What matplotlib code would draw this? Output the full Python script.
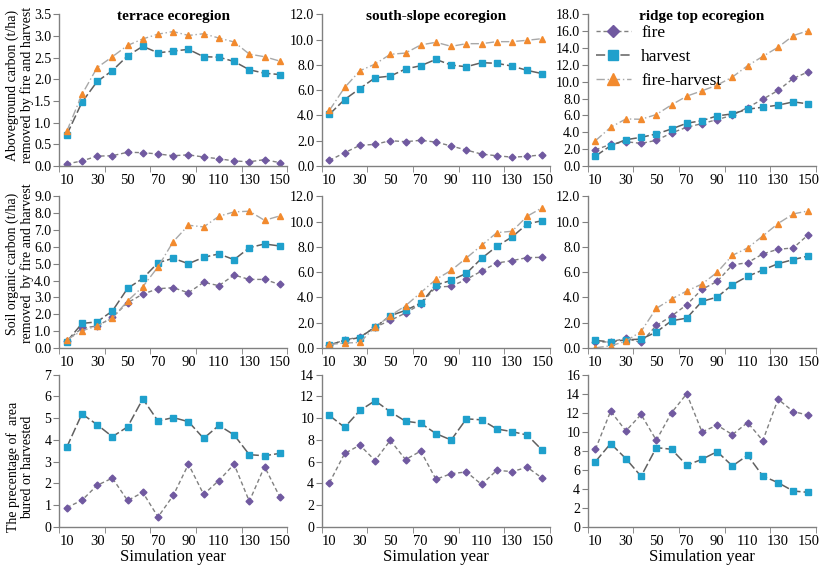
import matplotlib
matplotlib.use("Agg")
import matplotlib.pyplot as plt
from matplotlib.ticker import FixedLocator, FormatStrFormatter

plt.rcParams["font.family"] = ["Liberation Serif", "DejaVu Serif"]

years = [10, 20, 30, 40, 50, 60, 70, 80, 90, 100, 110, 120, 130, 140, 150]
tick_years = [10, 30, 50, 70, 90, 110, 130, 150]

regions = ["terrace ecoregion", "south-slope ecoregion", "ridge top ecoregion"]

# aboveground carbon removed (t/ha)
agc_fire = [
    [0.05, 0.12, 0.23, 0.24, 0.32, 0.31, 0.28, 0.24, 0.26, 0.21, 0.17, 0.12, 0.10, 0.15, 0.08],
    [0.45, 1.06, 1.64, 1.72, 2.01, 1.93, 2.04, 1.90, 1.59, 1.27, 0.95, 0.82, 0.71, 0.77, 0.90],
    [1.94, 2.58, 2.89, 2.70, 3.05, 3.93, 4.60, 5.04, 5.51, 6.03, 6.94, 7.93, 8.96, 10.39, 11.18],
]
agc_harvest = [
    [0.72, 1.47, 1.95, 2.20, 2.54, 2.76, 2.61, 2.65, 2.69, 2.52, 2.51, 2.41, 2.22, 2.14, 2.11],
    [4.10, 5.26, 6.13, 6.98, 7.11, 7.67, 7.93, 8.43, 7.98, 7.85, 8.17, 8.12, 7.90, 7.56, 7.30],
    [1.19, 2.42, 3.13, 3.41, 3.81, 4.40, 5.08, 5.39, 5.95, 6.19, 6.74, 6.98, 7.22, 7.61, 7.37],
]
agc_both = [
    [0.80, 1.65, 2.27, 2.52, 2.78, 2.93, 3.04, 3.10, 3.01, 3.05, 2.95, 2.86, 2.58, 2.52, 2.42],
    [4.41, 6.21, 7.53, 8.06, 8.83, 8.93, 9.57, 9.78, 9.46, 9.67, 9.67, 9.83, 9.83, 9.94, 10.07],
    [3.01, 4.60, 5.59, 5.55, 6.11, 7.26, 8.29, 8.92, 9.60, 10.55, 11.90, 13.00, 14.08, 15.46, 16.06],
]

# soil organic carbon removed (t/ha)
soc_fire = [
    [0.42, 1.19, 1.31, 1.82, 2.69, 3.20, 3.52, 3.58, 3.28, 3.90, 3.70, 4.33, 4.07, 4.07, 3.77],
    [0.21, 0.66, 0.87, 1.66, 2.19, 2.77, 3.48, 4.83, 4.88, 5.43, 6.09, 6.72, 6.91, 7.15, 7.17],
    [0.47, 0.50, 0.77, 0.45, 1.79, 2.53, 3.43, 4.64, 5.27, 6.57, 6.75, 7.44, 7.81, 7.91, 8.97],
]
soc_harvest = [
    [0.38, 1.46, 1.56, 2.20, 3.54, 4.13, 5.06, 5.32, 5.00, 5.38, 5.58, 5.24, 5.95, 6.17, 6.05],
    [0.26, 0.61, 0.84, 1.66, 2.56, 2.98, 3.56, 4.98, 5.35, 5.91, 7.09, 8.04, 8.78, 9.81, 10.07],
    [0.61, 0.50, 0.66, 0.71, 1.27, 2.16, 2.37, 3.69, 4.03, 5.01, 5.67, 6.17, 6.67, 6.99, 7.28],
]
soc_both = [
    [0.49, 1.03, 1.31, 1.78, 2.79, 3.64, 4.81, 6.31, 7.28, 7.18, 7.81, 8.07, 8.11, 7.57, 7.83],
    [0.29, 0.40, 0.45, 1.66, 2.56, 3.35, 4.38, 5.43, 6.14, 7.12, 8.12, 9.12, 9.23, 10.42, 11.10],
    [0.03, 0.18, 0.55, 1.32, 3.14, 3.88, 4.51, 5.06, 5.99, 7.33, 7.91, 8.86, 9.84, 10.60, 10.84],
]

# percentage of area burned or harvested
pct_fire = [
    [0.88, 1.22, 1.91, 2.24, 1.21, 1.58, 0.45, 1.44, 2.88, 1.49, 2.13, 2.88, 1.17, 2.77, 1.38],
    [4.06, 6.75, 7.52, 6.10, 7.96, 6.19, 6.97, 4.37, 4.89, 5.05, 3.90, 5.20, 5.08, 5.48, 4.46],
    [8.16, 12.17, 10.09, 11.82, 9.11, 12.00, 14.00, 9.99, 10.69, 9.70, 10.97, 9.07, 13.43, 12.13, 11.74],
]
pct_harvest = [
    [3.66, 5.20, 4.70, 4.15, 4.60, 5.89, 4.87, 5.03, 4.84, 4.07, 4.67, 4.23, 3.32, 3.27, 3.38],
    [10.25, 9.16, 10.71, 11.61, 10.59, 9.72, 9.54, 8.58, 7.99, 9.94, 9.85, 9.01, 8.76, 8.45, 7.03],
    [6.86, 8.76, 7.17, 5.31, 8.33, 8.16, 6.47, 7.10, 7.91, 6.40, 7.52, 5.34, 4.64, 3.76, 3.62],
]

ylims = [[3.5, 12, 18], [9, 12, 12], [7, 14, 16]]
ysteps = [[0.5, 2, 2], [1, 2, 2], [1, 2, 2]]

ylabels = [
    "Aboveground carbon (t/ha)\nremoved by fire and harvest",
    "Soil organic carbon (t/ha)\nremoved  by fire and harvest",
    "The precentage of  area\nbured or harvested",
]

c_fire = "#7059a0"
c_harv = "#1fa0cc"
c_both = "#f28a2e"

fig = plt.figure(figsize=(8.21, 5.67), dpi=100)

lefts = [0.072, 0.392, 0.716]
width = 0.278
bottoms = [0.707, 0.386, 0.071]
height = 0.268

for r in range(3):
    for c in range(3):
        ax = fig.add_axes([lefts[c], bottoms[r], width, height])
        if r == 0:
            series = [agc_fire[c], agc_harvest[c], agc_both[c]]
        elif r == 1:
            series = [soc_fire[c], soc_harvest[c], soc_both[c]]
        else:
            series = [pct_fire[c], pct_harvest[c]]

        ax.plot(years, series[0], color="#808080", linestyle=(0, (3, 2)), linewidth=1.0,
                marker="D", markersize=3.5, markerfacecolor=c_fire, markeredgecolor=c_fire,
                label="fire")
        ax.plot(years, series[1], color="#606060", linestyle=(0, (6, 2)), linewidth=1.1,
                marker="s", markersize=4.5, markerfacecolor=c_harv, markeredgecolor=c_harv,
                label="harvest")
        if len(series) > 2:
            ax.plot(years, series[2], color="#a8a8a8", linestyle=(0, (6, 2, 1, 2)), linewidth=1.0,
                    marker="^", markersize=5, markerfacecolor=c_both, markeredgecolor=c_both,
                    label="fire-harvest")

        ax.set_xlim(5, 155)
        ax.set_ylim(0, ylims[r][c])
        ax.set_xticks(tick_years)
        ax.set_xticks(list(range(5, 156, 30)), minor=True)
        ax.tick_params(axis="x", which="major", length=0, labelsize=10.5, pad=6)
        ax.tick_params(axis="x", which="minor", length=4, direction="out", color="#808080")
        n = int(round(ylims[r][c] / ysteps[r][c]))
        ax.yaxis.set_major_locator(FixedLocator([i * ysteps[r][c] for i in range(n + 1)]))
        if r < 2:
            ax.yaxis.set_major_formatter(FormatStrFormatter("%.1f"))
        else:
            ax.yaxis.set_major_formatter(FormatStrFormatter("%d"))
        ax.tick_params(axis="y", length=4, direction="out", color="#808080", labelsize=10, pad=1.5)

        for side in ["top", "right"]:
            ax.spines[side].set_visible(False)
        for side in ["left", "bottom"]:
            ax.spines[side].set_color("#808080")
            ax.spines[side].set_linewidth(1.0)

        if r == 0:
            ax.text(0.5, 0.985, regions[c], transform=ax.transAxes, ha="center", va="center",
                    fontsize=11, fontweight="bold")
        if r == 2:
            ax.set_xlabel("Simulation year", fontsize=12, labelpad=1)
        if r == 0 and c == 2:
            ax.legend(loc="upper left", bbox_to_anchor=(-0.01, 1.0), frameon=False,
                      fontsize=12.5, handlelength=2.0, labelspacing=0.45,
                      handletextpad=0.6, borderaxespad=0.2, markerscale=1.7)

label_y = [0.850, 0.535, 0.176]
for r in range(3):
    fig.text(0.024, label_y[r], ylabels[r], rotation=90, ha="center", va="center",
             fontsize=10, linespacing=1.1)

fig.savefig("out.png", dpi=100)
plt.close(fig)
